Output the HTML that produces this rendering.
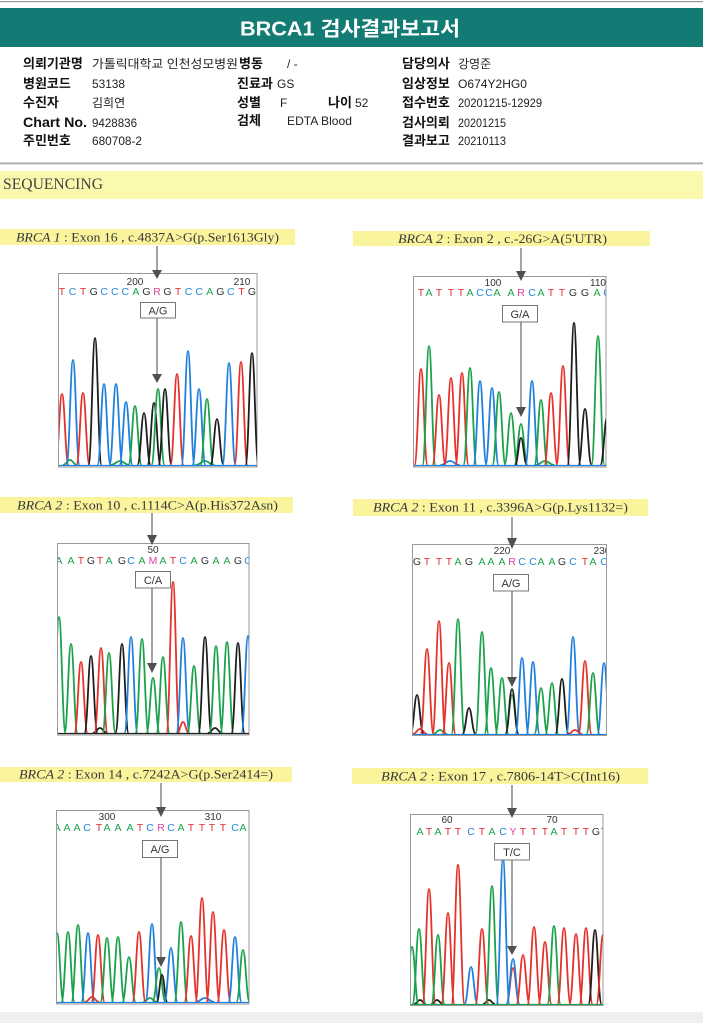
<!DOCTYPE html>
<html><head><meta charset="utf-8">
<style>
html,body{margin:0;padding:0;background:#fff}
body{width:703px;height:1023px;overflow:hidden}
svg{display:block}
.lb{font-family:"Liberation Serif","Noto Serif CJK SC",serif;font-size:13px;fill:#383838}
.lbl{font-family:"Liberation Sans","Noto Sans CJK KR",sans-serif;font-size:13px;font-weight:bold;fill:#111}
.val{font-family:"Liberation Sans","Noto Sans CJK KR",sans-serif;font-size:12px;fill:#222}
.num{font-family:"Liberation Sans",sans-serif;font-size:10px;fill:#333}
.seq{font-family:"Liberation Sans",sans-serif;font-size:10.5px;text-anchor:middle}
.mb{font-family:"Liberation Sans",sans-serif;font-size:11px;fill:#333;text-anchor:middle}
.r{stroke:#e5322b}.b{stroke:#2080dc}.g{stroke:#1ba24a}.k{stroke:#1e1e1e}
.tA{fill:#1ba24a}.tC{fill:#2288dd}.tG{fill:#333}.tT{fill:#e03030}.tM{fill:#e0409a}
.pk{stroke-width:1.8;fill:none}
</style></head>
<body>
<svg width="703" height="1023" viewBox="0 0 703 1023" xmlns="http://www.w3.org/2000/svg">
<defs>
<path id="k" d="M-1.2,0C-0.62,0 -0.48,-1 0,-1S0.62,0 1.2,0" fill="none" vector-effect="non-scaling-stroke"/>
</defs>

<!-- header -->
<rect x="0" y="1" width="703" height="1.2" fill="#9a9a9a"/>
<rect x="0" y="8" width="703" height="39" fill="#127c74"/>
<text x="350" y="35.5" text-anchor="middle" textLength="220" lengthAdjust="spacingAndGlyphs" style="font-family:'Liberation Sans','Noto Sans CJK KR',sans-serif;font-size:20px;font-weight:bold;fill:#fff">BRCA1 검사결과보고서</text>

<!-- info rows -->
<text class="lbl" x="23" y="68">의뢰기관명</text>
<text class="val" x="92" y="68" textLength="146" lengthAdjust="spacingAndGlyphs">가톨릭대학교 인천성모병원</text>
<text class="lbl" x="239" y="68">병동</text>
<text class="val" x="287" y="68">/ -</text>
<text class="lbl" x="402" y="68">담당의사</text>
<text class="val" x="458" y="68">강영준</text>

<text class="lbl" x="23" y="88">병원코드</text>
<text class="val" x="92" y="88" textLength="33" lengthAdjust="spacingAndGlyphs">53138</text>
<text class="lbl" x="237" y="88">진료과</text>
<text class="val" x="277" y="88">GS</text>
<text class="lbl" x="402" y="88">임상정보</text>
<text class="val" x="458" y="88" textLength="69" lengthAdjust="spacingAndGlyphs">O674Y2HG0</text>

<text class="lbl" x="23" y="107">수진자</text>
<text class="val" x="92" y="107">김희연</text>
<text class="lbl" x="237" y="107">성별</text>
<text class="val" x="280" y="107">F</text>
<text class="lbl" x="328" y="107">나이</text>
<text class="val" x="355" y="107">52</text>
<text class="lbl" x="402" y="107">접수번호</text>
<text class="val" x="458" y="107" textLength="84" lengthAdjust="spacingAndGlyphs">20201215-12929</text>

<text class="lbl" x="23" y="127" textLength="64" lengthAdjust="spacingAndGlyphs" style="font-size:14px">Chart No.</text>
<text class="val" x="92" y="127" textLength="45" lengthAdjust="spacingAndGlyphs">9428836</text>
<text class="lbl" x="237" y="125">검체</text>
<text class="val" x="287" y="125" textLength="65" lengthAdjust="spacingAndGlyphs">EDTA Blood</text>
<text class="lbl" x="402" y="127">검사의뢰</text>
<text class="val" x="458" y="127" textLength="48" lengthAdjust="spacingAndGlyphs">20201215</text>

<text class="lbl" x="23" y="145">주민번호</text>
<text class="val" x="92" y="145" textLength="50" lengthAdjust="spacingAndGlyphs">680708-2</text>
<text class="lbl" x="402" y="145">결과보고</text>
<text class="val" x="458" y="145" textLength="48" lengthAdjust="spacingAndGlyphs">20210113</text>

<rect x="0" y="162.5" width="703" height="1.8" fill="#a8a8a8"/>
<rect x="0" y="171" width="703" height="28" fill="#fbf9ad"/>
<text x="3" y="189" textLength="100" lengthAdjust="spacingAndGlyphs" style="font-family:'Liberation Serif',serif;font-size:16px;fill:#444">SEQUENCING</text>

<!-- ============ PANEL 1 ============ -->
<rect x="0" y="229" width="295" height="16" fill="#faf59c"/>
<text class="lb" x="16" y="241.5" textLength="263" lengthAdjust="spacingAndGlyphs"><tspan font-style="italic">BRCA 1</tspan> : Exon 16 , c.4837A&gt;G(p.Ser1613Gly)</text>
<rect x="58.5" y="273.5" width="198.5" height="193.5" fill="none" stroke="#9a9a9a" stroke-width="1"/>
<svg x="59" y="274" width="198" height="193" viewBox="59 274 198 193">
<text class="num" x="135" y="285" text-anchor="middle">200</text>
<text class="num" x="242" y="285" text-anchor="middle">210</text>
<text class="seq" y="295"><tspan class="tT" x="62">T</tspan><tspan class="tC" x="72.6">C</tspan><tspan class="tT" x="83.1">T</tspan><tspan class="tG" x="93.7">G</tspan><tspan class="tC" x="104.2">C</tspan><tspan class="tC" x="114.8">C</tspan><tspan class="tC" x="125.3">C</tspan><tspan class="tA" x="135.9">A</tspan><tspan class="tG" x="146.4">G</tspan><tspan class="tM" x="157">R</tspan><tspan class="tG" x="167.5">G</tspan><tspan class="tT" x="178.1">T</tspan><tspan class="tC" x="188.6">C</tspan><tspan class="tC" x="199.2">C</tspan><tspan class="tA" x="209.7">A</tspan><tspan class="tG" x="220.3">G</tspan><tspan class="tC" x="230.8">C</tspan><tspan class="tT" x="241.4">T</tspan><tspan class="tG" x="251.9">G</tspan></text>
<g class="pk">
<use href="#k" class="g" transform="translate(70 465) scale(6 5)"/>
<use href="#k" class="g" transform="translate(120 465) scale(8 4)"/>
<use href="#k" class="g" transform="translate(205 465) scale(8 4)"/>
<use href="#k" class="r" transform="translate(62 465) scale(5.5 71)"/>
<use href="#k" class="b" transform="translate(73 465) scale(5.5 105)"/>
<use href="#k" class="r" transform="translate(83 465) scale(5.5 72)"/>
<use href="#k" class="k" transform="translate(95 465) scale(5.5 127)"/>
<use href="#k" class="b" transform="translate(104 465) scale(5.5 81)"/>
<use href="#k" class="b" transform="translate(116 465) scale(5.5 81)"/>
<use href="#k" class="b" transform="translate(126 465) scale(5.5 63)"/>
<use href="#k" class="g" transform="translate(135 465) scale(5.5 59)"/>
<use href="#k" class="k" transform="translate(144 465) scale(5.5 52)"/>
<use href="#k" class="k" transform="translate(154 465) scale(5.5 62)"/>
<use href="#k" class="g" transform="translate(158 465) scale(5.5 76)"/>
<use href="#k" class="k" transform="translate(165 465) scale(5.5 76)"/>
<use href="#k" class="r" transform="translate(177 465) scale(5.5 91)"/>
<use href="#k" class="b" transform="translate(188 465) scale(5.5 114)"/>
<use href="#k" class="b" transform="translate(199 465) scale(5.5 76)"/>
<use href="#k" class="g" transform="translate(207 465) scale(5.5 66)"/>
<use href="#k" class="k" transform="translate(217 465) scale(5.5 46)"/>
<use href="#k" class="b" transform="translate(229 465) scale(5.5 102)"/>
<use href="#k" class="r" transform="translate(241 465) scale(5.5 103)"/>
<use href="#k" class="k" transform="translate(252 465) scale(5.5 112)"/>
</g>
<line x1="59" y1="465.5" x2="257" y2="465.5" stroke="#2080dc" stroke-width="1.2"/>
<line x1="157" y1="318" x2="157" y2="375" stroke="#666" stroke-width="1.2"/>
<polygon points="152,374 162,374 157,383" fill="#505050"/>
<rect x="140.5" y="302.5" width="35" height="15.5" fill="#fff" stroke="#777" stroke-width="1"/>
<text class="mb" x="158" y="314.5">A/G</text>
</svg>
<line x1="157" y1="246" x2="157" y2="271" stroke="#666" stroke-width="1.2"/>
<polygon points="152,270 162,270 157,279" fill="#505050"/>

<!-- ============ PANEL 2 ============ -->
<rect x="353" y="231" width="297" height="15" fill="#faf59c"/>
<text class="lb" x="398" y="243" textLength="209" lengthAdjust="spacingAndGlyphs"><tspan font-style="italic">BRCA 2</tspan> : Exon 2 , c.-26G&gt;A(5'UTR)</text>
<rect x="413.5" y="276.5" width="192.5" height="190.5" fill="none" stroke="#9a9a9a" stroke-width="1"/>
<svg x="414" y="277" width="192" height="190" viewBox="414 277 192 190">
<text class="num" x="493" y="286" text-anchor="middle">100</text>
<text class="num" x="598" y="286" text-anchor="middle">110</text>
<text class="seq" y="296"><tspan class="tT" x="421">T</tspan><tspan class="tA" x="429">A</tspan><tspan class="tT" x="439">T</tspan><tspan class="tT" x="451">T</tspan><tspan class="tT" x="461">T</tspan><tspan class="tA" x="470">A</tspan><tspan class="tC" x="480">C</tspan><tspan class="tC" x="489">C</tspan><tspan class="tA" x="497">A</tspan><tspan class="tA" x="511">A</tspan><tspan class="tM" x="521">R</tspan><tspan class="tC" x="532">C</tspan><tspan class="tA" x="541">A</tspan><tspan class="tT" x="551">T</tspan><tspan class="tT" x="562">T</tspan><tspan class="tG" x="573">G</tspan><tspan class="tG" x="585">G</tspan><tspan class="tA" x="597">A</tspan><tspan class="tC" x="607">C</tspan></text>
<g class="pk">
<use href="#k" class="b" transform="translate(450 465) scale(8 4)"/>
<use href="#k" class="g" transform="translate(545 465) scale(8 4)"/>
<use href="#k" class="r" transform="translate(421 465) scale(5.5 96)"/>
<use href="#k" class="g" transform="translate(429 465) scale(5.5 119)"/>
<use href="#k" class="r" transform="translate(439 465) scale(5.5 70)"/>
<use href="#k" class="r" transform="translate(451 465) scale(5.5 87)"/>
<use href="#k" class="r" transform="translate(462 465) scale(5.5 92)"/>
<use href="#k" class="g" transform="translate(470 465) scale(5.5 97)"/>
<use href="#k" class="b" transform="translate(480 465) scale(5.5 84)"/>
<use href="#k" class="b" transform="translate(492 465) scale(5.5 77)"/>
<use href="#k" class="g" transform="translate(499 465) scale(5.5 73)"/>
<use href="#k" class="g" transform="translate(511 465) scale(5.5 52)"/>
<use href="#k" class="g" transform="translate(521 465) scale(5.5 41)"/>
<use href="#k" class="k" transform="translate(521 465) scale(5 27)"/>
<use href="#k" class="b" transform="translate(532 465) scale(5.5 84)"/>
<use href="#k" class="g" transform="translate(541 465) scale(5.5 65)"/>
<use href="#k" class="r" transform="translate(551 465) scale(5.5 72)"/>
<use href="#k" class="r" transform="translate(563 465) scale(5.5 99)"/>
<use href="#k" class="k" transform="translate(574 465) scale(5.5 142)"/>
<use href="#k" class="k" transform="translate(585 465) scale(5.5 56)"/>
<use href="#k" class="g" transform="translate(598 465) scale(5.5 129)"/>
<use href="#k" class="k" transform="translate(607 465) scale(5.5 47)"/>
</g>
<line x1="414" y1="465.5" x2="606" y2="465.5" stroke="#2080dc" stroke-width="1.2"/>
<line x1="521" y1="322" x2="521" y2="408" stroke="#666" stroke-width="1.2"/>
<polygon points="516,407 526,407 521,417" fill="#505050"/>
<rect x="502.5" y="305.5" width="35" height="16.5" fill="#fff" stroke="#777" stroke-width="1"/>
<text class="mb" x="520" y="318">G/A</text>
</svg>
<line x1="521" y1="248" x2="521" y2="272" stroke="#666" stroke-width="1.2"/>
<polygon points="516,271 526,271 521,281" fill="#505050"/>

<!-- ============ PANEL 3 ============ -->
<rect x="0" y="497" width="293" height="16" fill="#faf59c"/>
<text class="lb" x="17" y="509.5" textLength="261" lengthAdjust="spacingAndGlyphs"><tspan font-style="italic">BRCA 2</tspan> : Exon 10 , c.1114C&gt;A(p.His372Asn)</text>
<rect x="57.5" y="543.5" width="191.5" height="191.5" fill="none" stroke="#9a9a9a" stroke-width="1"/>
<svg x="58" y="544" width="191" height="191" viewBox="58 544 191 191">
<text class="num" x="153" y="553" text-anchor="middle">50</text>
<text class="seq" y="564"><tspan class="tA" x="59">A</tspan><tspan class="tA" x="71">A</tspan><tspan class="tT" x="81">T</tspan><tspan class="tG" x="91">G</tspan><tspan class="tT" x="100">T</tspan><tspan class="tA" x="109">A</tspan><tspan class="tG" x="122">G</tspan><tspan class="tC" x="131">C</tspan><tspan class="tA" x="142">A</tspan><tspan class="tM" x="153">M</tspan><tspan class="tA" x="163">A</tspan><tspan class="tT" x="173">T</tspan><tspan class="tC" x="183">C</tspan><tspan class="tA" x="194">A</tspan><tspan class="tG" x="205">G</tspan><tspan class="tA" x="216">A</tspan><tspan class="tA" x="227">A</tspan><tspan class="tG" x="238">G</tspan><tspan class="tC" x="248">C</tspan></text>
<g class="pk">
<use href="#k" class="r" transform="translate(183 733) scale(5 11)"/>
<use href="#k" class="k" transform="translate(100 733) scale(6 5)"/>
<use href="#k" class="k" transform="translate(215 733) scale(6 5)"/>
<use href="#k" class="g" transform="translate(59 733) scale(5.5 116)"/>
<use href="#k" class="g" transform="translate(71 733) scale(5.5 89)"/>
<use href="#k" class="r" transform="translate(81 733) scale(5.5 71)"/>
<use href="#k" class="k" transform="translate(91 733) scale(5.5 77)"/>
<use href="#k" class="r" transform="translate(101 733) scale(5.5 85)"/>
<use href="#k" class="g" transform="translate(109 733) scale(5.5 80)"/>
<use href="#k" class="k" transform="translate(122 733) scale(5.5 89)"/>
<use href="#k" class="b" transform="translate(131 733) scale(5.5 96)"/>
<use href="#k" class="g" transform="translate(142 733) scale(5.5 94)"/>
<use href="#k" class="g" transform="translate(153 733) scale(5.5 55)"/>
<use href="#k" class="g" transform="translate(163 733) scale(5.5 76)"/>
<use href="#k" class="r" transform="translate(173 733) scale(5.5 151)"/>
<use href="#k" class="b" transform="translate(183 733) scale(5.5 95)"/>
<use href="#k" class="g" transform="translate(194 733) scale(5.5 67)"/>
<use href="#k" class="k" transform="translate(205 733) scale(5.5 96)"/>
<use href="#k" class="g" transform="translate(216 733) scale(5.5 87)"/>
<use href="#k" class="g" transform="translate(227 733) scale(5.5 91)"/>
<use href="#k" class="k" transform="translate(238 733) scale(5.5 90)"/>
<use href="#k" class="b" transform="translate(248 733) scale(5.5 97)"/>
</g>
<line x1="58" y1="733.5" x2="249" y2="733.5" stroke="#222" stroke-width="1.2"/>
<line x1="152" y1="588" x2="152" y2="664" stroke="#666" stroke-width="1.2"/>
<polygon points="147,663 157,663 152,673" fill="#505050"/>
<rect x="135.5" y="571.5" width="35" height="16.5" fill="#fff" stroke="#777" stroke-width="1"/>
<text class="mb" x="153" y="584">C/A</text>
</svg>
<line x1="152" y1="513" x2="152" y2="536" stroke="#666" stroke-width="1.2"/>
<polygon points="147,535 157,535 152,545" fill="#505050"/>

<!-- ============ PANEL 4 ============ -->
<rect x="353" y="499" width="295" height="17" fill="#faf59c"/>
<text class="lb" x="373" y="511.5" textLength="255" lengthAdjust="spacingAndGlyphs"><tspan font-style="italic">BRCA 2</tspan> : Exon 11 , c.3396A&gt;G(p.Lys1132=)</text>
<rect x="412.5" y="544.5" width="194" height="191" fill="none" stroke="#9a9a9a" stroke-width="1"/>
<svg x="413" y="545" width="193" height="190" viewBox="413 545 193 190">
<text class="num" x="502" y="554" text-anchor="middle">220</text>
<text class="num" x="602" y="554" text-anchor="middle">230</text>
<text class="seq" y="565"><tspan class="tG" x="417">G</tspan><tspan class="tT" x="427">T</tspan><tspan class="tT" x="439">T</tspan><tspan class="tT" x="449">T</tspan><tspan class="tA" x="458">A</tspan><tspan class="tG" x="469">G</tspan><tspan class="tA" x="482">A</tspan><tspan class="tA" x="491">A</tspan><tspan class="tA" x="502">A</tspan><tspan class="tM" x="512">R</tspan><tspan class="tC" x="522">C</tspan><tspan class="tC" x="533">C</tspan><tspan class="tA" x="541">A</tspan><tspan class="tA" x="552">A</tspan><tspan class="tG" x="562">G</tspan><tspan class="tC" x="573">C</tspan><tspan class="tT" x="585">T</tspan><tspan class="tA" x="593">A</tspan><tspan class="tC" x="604">C</tspan></text>
<g class="pk">
<use href="#k" class="r" transform="translate(420 734) scale(6 5)"/>
<use href="#k" class="g" transform="translate(440 734) scale(6 4)"/>
<use href="#k" class="r" transform="translate(575 734) scale(6 4)"/>
<use href="#k" class="k" transform="translate(417 734) scale(5.5 39)"/>
<use href="#k" class="r" transform="translate(427 734) scale(5.5 85)"/>
<use href="#k" class="r" transform="translate(439 734) scale(5.5 113)"/>
<use href="#k" class="r" transform="translate(449 734) scale(5.5 71)"/>
<use href="#k" class="g" transform="translate(458 734) scale(5.5 115)"/>
<use href="#k" class="k" transform="translate(469 734) scale(5.5 26)"/>
<use href="#k" class="g" transform="translate(482 734) scale(5.5 102)"/>
<use href="#k" class="g" transform="translate(491 734) scale(5.5 66)"/>
<use href="#k" class="g" transform="translate(502 734) scale(5.5 56)"/>
<use href="#k" class="g" transform="translate(512 734) scale(5.5 39)"/>
<use href="#k" class="k" transform="translate(512 734) scale(5.5 45)"/>
<use href="#k" class="b" transform="translate(522 734) scale(5.5 76)"/>
<use href="#k" class="b" transform="translate(533 734) scale(5.5 72)"/>
<use href="#k" class="g" transform="translate(541 734) scale(5.5 46)"/>
<use href="#k" class="g" transform="translate(552 734) scale(5.5 51)"/>
<use href="#k" class="k" transform="translate(562 734) scale(5.5 55)"/>
<use href="#k" class="b" transform="translate(573 734) scale(5.5 97)"/>
<use href="#k" class="r" transform="translate(585 734) scale(5.5 73)"/>
<use href="#k" class="g" transform="translate(593 734) scale(5.5 61)"/>
<use href="#k" class="b" transform="translate(604 734) scale(5.5 71)"/>
</g>
<line x1="413" y1="734.5" x2="606" y2="734.5" stroke="#2080dc" stroke-width="1.2"/>
<line x1="512" y1="591" x2="512" y2="678" stroke="#666" stroke-width="1.2"/>
<polygon points="507,677 517,677 512,687" fill="#505050"/>
<rect x="493.5" y="574.5" width="35" height="16.5" fill="#fff" stroke="#777" stroke-width="1"/>
<text class="mb" x="511" y="587">A/G</text>
</svg>
<line x1="512" y1="517" x2="512" y2="539" stroke="#666" stroke-width="1.2"/>
<polygon points="507,538 517,538 512,549" fill="#505050"/>

<!-- ============ PANEL 5 ============ -->
<rect x="0" y="767" width="292" height="15" fill="#faf59c"/>
<text class="lb" x="19" y="778.5" textLength="254" lengthAdjust="spacingAndGlyphs"><tspan font-style="italic">BRCA 2</tspan> : Exon 14 , c.7242A&gt;G(p.Ser2414=)</text>
<rect x="56.5" y="810.5" width="192.5" height="193.5" fill="none" stroke="#9a9a9a" stroke-width="1"/>
<svg x="57" y="811" width="192" height="193" viewBox="57 811 192 193">
<text class="num" x="107" y="820" text-anchor="middle">300</text>
<text class="num" x="213" y="820" text-anchor="middle">310</text>
<text class="seq" y="831"><tspan class="tA" x="57">A</tspan><tspan class="tA" x="67">A</tspan><tspan class="tA" x="77">A</tspan><tspan class="tC" x="87">C</tspan><tspan class="tT" x="99">T</tspan><tspan class="tA" x="107">A</tspan><tspan class="tA" x="118">A</tspan><tspan class="tA" x="130">A</tspan><tspan class="tT" x="140">T</tspan><tspan class="tC" x="150">C</tspan><tspan class="tM" x="161">R</tspan><tspan class="tC" x="171">C</tspan><tspan class="tA" x="181">A</tspan><tspan class="tT" x="191">T</tspan><tspan class="tT" x="202">T</tspan><tspan class="tT" x="212">T</tspan><tspan class="tT" x="223">T</tspan><tspan class="tC" x="235">C</tspan><tspan class="tA" x="243">A</tspan></text>
<g class="pk">
<use href="#k" class="r" transform="translate(92 1002) scale(6 5)"/>
<use href="#k" class="g" transform="translate(150 1002) scale(6 4)"/>
<use href="#k" class="b" transform="translate(205 1002) scale(8 4)"/>
<use href="#k" class="g" transform="translate(57 1002) scale(5.5 69)"/>
<use href="#k" class="g" transform="translate(68 1002) scale(5.5 70)"/>
<use href="#k" class="g" transform="translate(78 1002) scale(5.5 77)"/>
<use href="#k" class="b" transform="translate(88 1002) scale(5.5 69)"/>
<use href="#k" class="r" transform="translate(98 1002) scale(5.5 67)"/>
<use href="#k" class="g" transform="translate(107 1002) scale(5.5 64)"/>
<use href="#k" class="g" transform="translate(118 1002) scale(5.5 65)"/>
<use href="#k" class="g" transform="translate(129 1002) scale(5.5 45)"/>
<use href="#k" class="r" transform="translate(139 1002) scale(5.5 70)"/>
<use href="#k" class="b" transform="translate(152 1002) scale(5.5 78)"/>
<use href="#k" class="g" transform="translate(159 1002) scale(5.5 34)"/>
<use href="#k" class="k" transform="translate(162 1002) scale(4.5 27)"/>
<use href="#k" class="b" transform="translate(171 1002) scale(5.5 54)"/>
<use href="#k" class="g" transform="translate(181 1002) scale(5.5 80)"/>
<use href="#k" class="r" transform="translate(191 1002) scale(5.5 66)"/>
<use href="#k" class="r" transform="translate(202 1002) scale(5.5 104)"/>
<use href="#k" class="r" transform="translate(213 1002) scale(5.5 90)"/>
<use href="#k" class="r" transform="translate(224 1002) scale(5.5 72)"/>
<use href="#k" class="b" transform="translate(235 1002) scale(5.5 65)"/>
<use href="#k" class="g" transform="translate(243 1002) scale(5.5 52)"/>
</g>
<line x1="57" y1="1002.5" x2="249" y2="1002.5" stroke="#2080dc" stroke-width="1.2"/>
<line x1="161" y1="858" x2="161" y2="958" stroke="#666" stroke-width="1.2"/>
<polygon points="156,957 166,957 161,967" fill="#505050"/>
<rect x="142.5" y="840.5" width="35" height="17" fill="#fff" stroke="#777" stroke-width="1"/>
<text class="mb" x="160" y="853">A/G</text>
</svg>
<line x1="161" y1="783" x2="161" y2="808" stroke="#666" stroke-width="1.2"/>
<polygon points="156,807 166,807 161,817" fill="#505050"/>

<!-- ============ PANEL 6 ============ -->
<rect x="352" y="768" width="296" height="16" fill="#faf59c"/>
<text class="lb" x="381" y="780.5" textLength="239" lengthAdjust="spacingAndGlyphs"><tspan font-style="italic">BRCA 2</tspan> : Exon 17 , c.7806-14T&gt;C(Int16)</text>
<rect x="410.5" y="814.5" width="192.5" height="191" fill="none" stroke="#9a9a9a" stroke-width="1"/>
<svg x="411" y="815" width="192" height="190" viewBox="411 815 192 190">
<text class="num" x="447" y="823" text-anchor="middle">60</text>
<text class="num" x="552" y="823" text-anchor="middle">70</text>
<text class="seq" y="835"><tspan class="tA" x="420">A</tspan><tspan class="tT" x="429">T</tspan><tspan class="tA" x="438">A</tspan><tspan class="tT" x="448">T</tspan><tspan class="tT" x="458">T</tspan><tspan class="tC" x="471">C</tspan><tspan class="tT" x="482">T</tspan><tspan class="tA" x="492">A</tspan><tspan class="tC" x="503">C</tspan><tspan class="tM" x="513">Y</tspan><tspan class="tT" x="523">T</tspan><tspan class="tT" x="534">T</tspan><tspan class="tT" x="545">T</tspan><tspan class="tA" x="554">A</tspan><tspan class="tT" x="564">T</tspan><tspan class="tT" x="576">T</tspan><tspan class="tT" x="586">T</tspan><tspan class="tG" x="596">G</tspan><tspan class="tT" x="604">T</tspan></text>
<g class="pk">
<use href="#k" class="k" transform="translate(420 1004) scale(5 4)"/>
<use href="#k" class="k" transform="translate(437 1004) scale(5 4)"/>
<use href="#k" class="k" transform="translate(489 1004) scale(5 4)"/>
<use href="#k" class="g" transform="translate(412 1004) scale(5.5 57)"/>
<use href="#k" class="g" transform="translate(419 1004) scale(5.5 75)"/>
<use href="#k" class="r" transform="translate(429 1004) scale(5.5 115)"/>
<use href="#k" class="g" transform="translate(438 1004) scale(5.5 69)"/>
<use href="#k" class="r" transform="translate(448 1004) scale(5.5 91)"/>
<use href="#k" class="r" transform="translate(458 1004) scale(5.5 139)"/>
<use href="#k" class="b" transform="translate(471 1004) scale(5.5 37)"/>
<use href="#k" class="r" transform="translate(482 1004) scale(5.5 75)"/>
<use href="#k" class="g" transform="translate(492 1004) scale(5.5 118)"/>
<use href="#k" class="b" transform="translate(503 1004) scale(5.5 145)"/>
<use href="#k" class="r" transform="translate(513 1004) scale(5.5 36)"/>
<use href="#k" class="b" transform="translate(513 1004) scale(5.5 45)"/>
<use href="#k" class="r" transform="translate(523 1004) scale(5.5 49)"/>
<use href="#k" class="r" transform="translate(534 1004) scale(5.5 77)"/>
<use href="#k" class="r" transform="translate(545 1004) scale(5.5 62)"/>
<use href="#k" class="g" transform="translate(554 1004) scale(5.5 78)"/>
<use href="#k" class="r" transform="translate(564 1004) scale(5.5 76)"/>
<use href="#k" class="r" transform="translate(576 1004) scale(5.5 70)"/>
<use href="#k" class="r" transform="translate(586 1004) scale(5.5 76)"/>
<use href="#k" class="k" transform="translate(595 1004) scale(5.5 74)"/>
<use href="#k" class="r" transform="translate(603 1004) scale(5.5 69)"/>
</g>
<line x1="411" y1="1004.5" x2="603" y2="1004.5" stroke="#1ba24a" stroke-width="1.2"/>
<line x1="512" y1="860" x2="512" y2="947" stroke="#666" stroke-width="1.2"/>
<polygon points="507,946 517,946 512,955" fill="#505050"/>
<rect x="494.5" y="843.5" width="35" height="16.5" fill="#fff" stroke="#777" stroke-width="1"/>
<text class="mb" x="512" y="856">T/C</text>
</svg>
<line x1="512" y1="785" x2="512" y2="809" stroke="#666" stroke-width="1.2"/>
<polygon points="507,808 517,808 512,818" fill="#505050"/>

<!-- bottom band -->
<rect x="0" y="1012" width="703" height="11" fill="#efefef"/>
</svg>
</body></html>
